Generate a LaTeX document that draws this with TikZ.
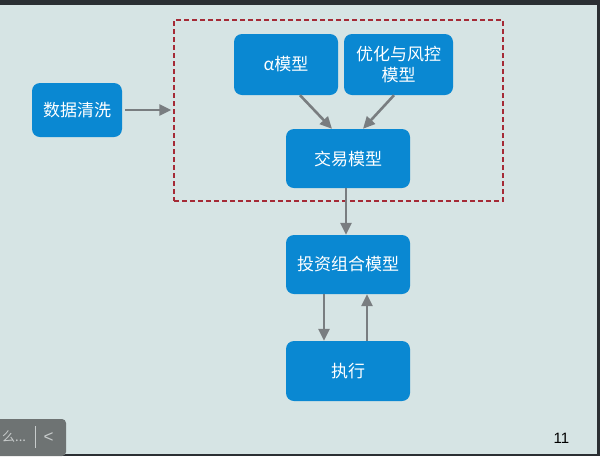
\documentclass[tikz,border=0pt]{standalone}
\usepackage{fontspec}
\newfontfamily\cjk{Noto Sans CJK SC}
\newfontfamily\zahl{Liberation Sans}
\usepackage{tikz}
\usetikzlibrary{arrows.meta,positioning,calc}
\definecolor{hinter}{HTML}{D6E4E4}
\definecolor{balken}{HTML}{2B2F33}
\definecolor{kastenblau}{HTML}{0A88D2}
\definecolor{pfeilgrau}{HTML}{797D80}
\definecolor{rahmenrot}{HTML}{A52A36}
\definecolor{leiste}{HTML}{6E7373}
\definecolor{leistetext}{HTML}{C8CCCC}

\begin{document}
\begin{tikzpicture}[x=1pt,y=-1pt,
  kasten/.style={fill=kastenblau,rounded corners=8pt,text=white,align=center,inner sep=0pt,
    font=\cjk\fontsize{17}{21}\selectfont,minimum width=124pt,minimum height=59pt},
  pfeil/.style={draw=pfeilgrau,line width=2.6pt,-{Triangle[length=12pt,width=11pt]}}]
%Folie: 600x456, Einheit = Pixel
\useasboundingbox (0,0) rectangle (600,456);
\fill[hinter] (0,0) rectangle (600,456);
\fill[balken] (0,0) rectangle (600,5);
\fill[balken] (597,0) rectangle (600,456);
\fill[balken] (0,454) rectangle (600,456);

%linker Kasten und gestrichelter Rahmen
\node[kasten,minimum width=90pt,minimum height=54pt] (reinigung) at (77,110) {数据清洗};
\node[draw=rahmenrot,dash pattern=on 5pt off 3pt,line width=1.3pt,
  minimum width=329pt,minimum height=181pt,inner sep=0pt] (rahmen) at (338.5,110.5) {};

%Modelle im Rahmen
\node[kasten,minimum width=104pt,minimum height=61pt] (alpha) at (286,64.5) {α模型};
\node[kasten,minimum width=109pt,minimum height=61pt] (risiko) at (398.5,64.5) {优化与风控\\模型};
\node[kasten] (handel) at (348,158.5) {交易模型};

%unterhalb des Rahmens
\node[kasten] (portfolio) at (348,264.5) {投资组合模型};
\node[kasten,minimum height=60pt] (ausfuehrung) at (348,371) {执行};

\draw[pfeil,shorten <=3pt,shorten >=2pt] (reinigung.east) -- (reinigung.east -| rahmen.west);
\draw[pfeil] ([xshift=14pt]alpha.south) -- ([xshift=-16pt]handel.north);
\draw[pfeil] ([xshift=-4.5pt]risiko.south) -- ([xshift=15pt]handel.north);
\draw[pfeil] ([xshift=-2pt]handel.south) -- ([xshift=-2pt]portfolio.north);
\draw[pfeil] ([xshift=-24pt]portfolio.south) -- ([xshift=-24pt]ausfuehrung.north);
\draw[pfeil] ([xshift=19pt]ausfuehrung.north) -- ([xshift=19pt]portfolio.south);

%Leiste unten links und Seitenzahl
\fill[leiste,rounded corners=4pt] (-6,419) rectangle (66,456);
\node[text=leistetext,font=\cjk\fontsize{13}{15}\selectfont,anchor=west,inner sep=0pt] (menue) at (2,437) {么...};
\draw[leistetext,line width=0.6pt] (35,426) -- (35,448);
\node[text=leistetext,font=\zahl\fontsize{17}{19}\selectfont] (zurueck) at (48.5,437.5) {<};
\node[font=\zahl\fontsize{15}{17}\selectfont] (seite) at (561.5,438.5) {11};
\end{tikzpicture}
\end{document}
